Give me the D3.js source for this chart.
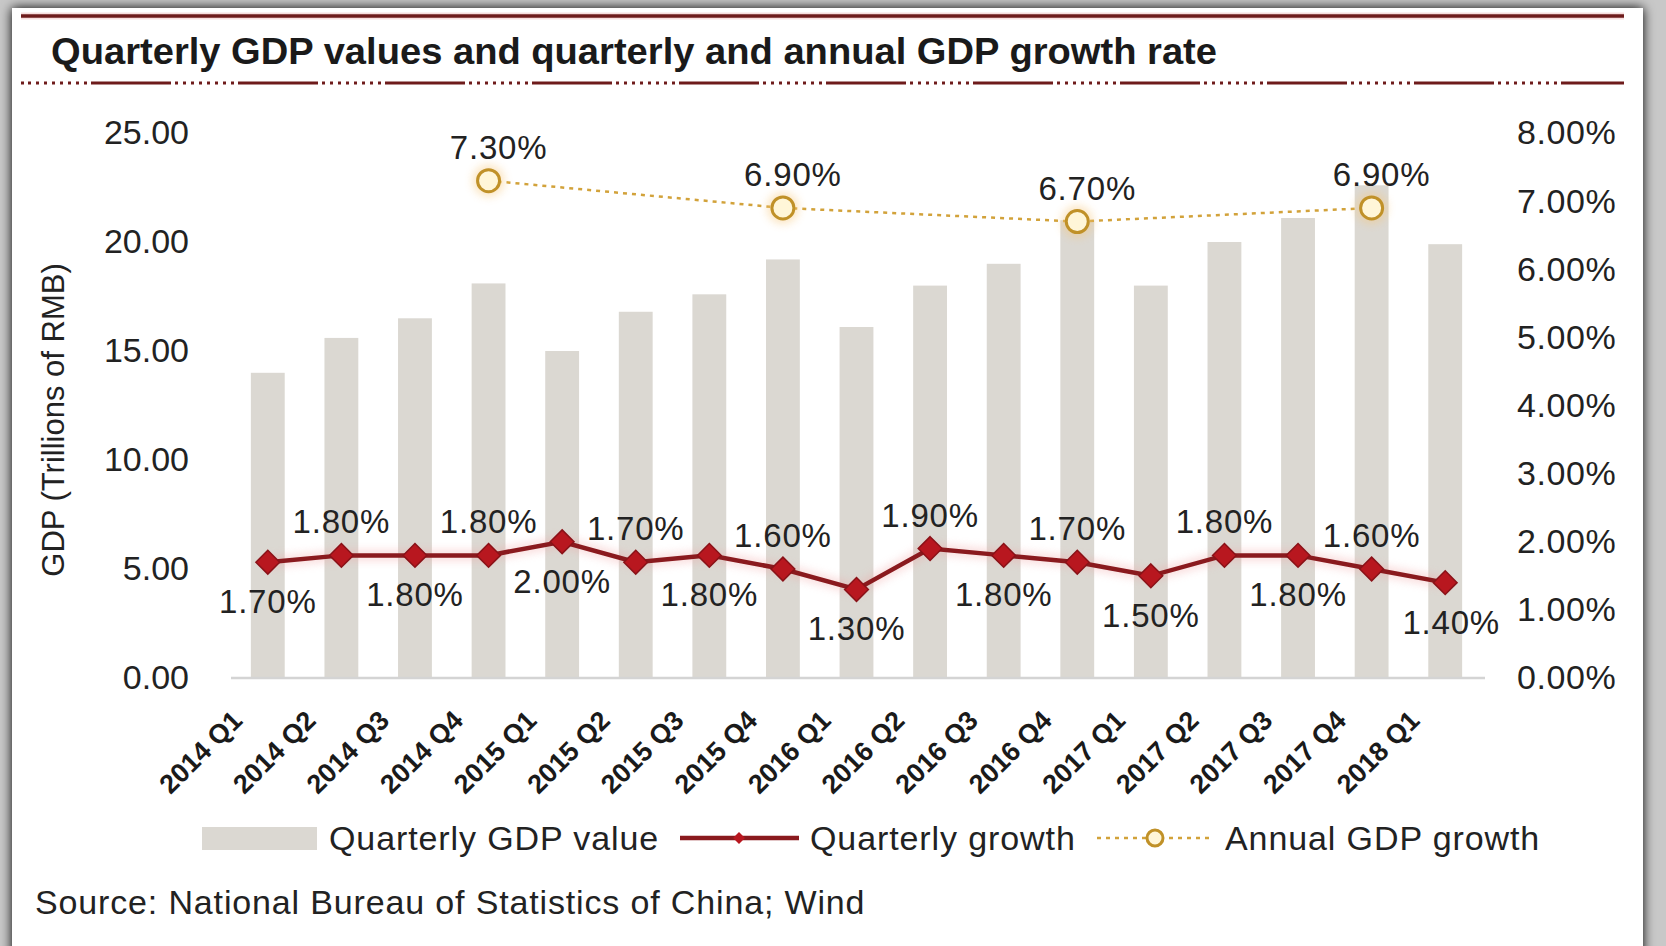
<!DOCTYPE html>
<html><head><meta charset="utf-8">
<script src="https://cdn.jsdelivr.net/npm/d3@7"></script>
<style>
html,body{margin:0;padding:0;background:#fff;}
svg{display:block;font-family:"Liberation Sans",Arial,sans-serif;}
</style></head>
<body><svg id="chart" width="1666" height="946"></svg>
<script>
const categories = ["2014 Q1","2014 Q2","2014 Q3","2014 Q4","2015 Q1","2015 Q2","2015 Q3","2015 Q4","2016 Q1","2016 Q2","2016 Q3","2016 Q4","2017 Q1","2017 Q2","2017 Q3","2017 Q4","2018 Q1"];
const gdpValues = [14.0,15.6,16.5,18.1,15.0,16.8,17.6,19.2,16.1,18.0,19.0,21.0,18.0,20.0,21.1,22.6,19.9];
const quarterlyGrowth = [1.7,1.8,1.8,1.8,2.0,1.7,1.8,1.6,1.3,1.9,1.8,1.7,1.5,1.8,1.8,1.6,1.4];
const annualCategories = ["2014 Q4","2015 Q4","2016 Q4","2017 Q4"];
const annualGrowth = [7.3,6.9,6.7,6.9];
const leftTicks = [0,5,10,15,20,25];
const rightTicks = [0,1,2,3,4,5,6,7,8];
const titleText = "Quarterly GDP values and quarterly and annual GDP growth rate";
const yTitle = "GDP (Trillions of RMB)";
const legendLabels = ["Quarterly GDP value","Quarterly growth","Annual GDP growth"];
const sourceText = "Source: National Bureau of Statistics of China; Wind";

const svg = d3.select("#chart");
const W = 1666, H = 946;
const barColor = "#dbd8d2", redLine = "#8a1a1e", redFill = "#b8171f", gold = "#d2a23a", textColor = "#222";
const FF = "Liberation Sans, Arial, sans-serif";

const defs = svg.append("defs");
const sh = defs.append("filter").attr("id","shadow").attr("x","-5%").attr("y","-5%").attr("width","110%").attr("height","110%");
sh.append("feGaussianBlur").attr("in","SourceAlpha").attr("stdDeviation",6);
const fm = sh.append("feMerge"); fm.append("feMergeNode"); fm.append("feMergeNode").attr("in","SourceGraphic");
const glow = defs.append("filter").attr("id","glow").attr("x","-50%").attr("y","-50%").attr("width","200%").attr("height","200%");
glow.append("feGaussianBlur").attr("stdDeviation",4);

// frame
svg.append("rect").attr("width",W).attr("height",H).attr("fill","#c8c8c8");
svg.append("rect").attr("x",12).attr("y",8).attr("width",1631).attr("height",950).attr("fill","#fff").attr("filter","url(#shadow)");

// header lines
svg.append("line").attr("x1",21).attr("x2",1624).attr("y1",16).attr("y2",16).attr("stroke","#e9a0a0").attr("stroke-width",7).attr("opacity",0.35);
svg.append("line").attr("x1",21).attr("x2",1624).attr("y1",16).attr("y2",16).attr("stroke","#6e1b1b").attr("stroke-width",3.5);
svg.append("line").attr("x1",21).attr("x2",1624).attr("y1",83).attr("y2",83)
  .attr("stroke","#6e1b1b").attr("stroke-width",3)
  .attr("stroke-dasharray","80,4,3,5,3,5,3,5,3,5,3,5,3,5,3,5,3,4").attr("stroke-dashoffset",-70);
svg.append("text").attr("x",51).attr("y",64).attr("font-size",36).attr("font-weight","bold")
  .attr("fill","#1a1a1a").attr("textLength",1166).attr("lengthAdjust","spacingAndGlyphs").text(titleText);

// scales
const x = d3.scaleBand().domain(categories).range([231,1482]).paddingInner(0.54).paddingOuter(0.27);
const yL = d3.scaleLinear().domain([0,25]).range([678,133]);
const yR = d3.scaleLinear().domain([0,8]).range([678,133]);
const cx = d => x(d) + x.bandwidth()/2;

// axes
const gL = svg.append("g").attr("transform","translate(231,0)")
  .call(d3.axisLeft(yL).tickValues(leftTicks).tickFormat(d=>d.toFixed(2)).tickSize(0).tickPadding(42));
gL.select(".domain").remove();
gL.selectAll("text").attr("font-size",34).attr("fill",textColor).attr("font-family",FF);

const gR = svg.append("g").attr("transform","translate(1482,0)")
  .call(d3.axisRight(yR).tickValues(rightTicks).tickFormat(d=>d.toFixed(2)+"%").tickSize(0).tickPadding(35));
gR.select(".domain").remove();
gR.selectAll("text").attr("font-size",34).attr("fill",textColor).attr("font-family",FF).attr("letter-spacing",0.6);

// bars
svg.append("g").selectAll("rect").data(categories).join("rect")
  .attr("x",d=>x(d)).attr("width",x.bandwidth())
  .attr("y",(d,i)=>yL(gdpValues[i])).attr("height",(d,i)=>yL(0)-yL(gdpValues[i]))
  .attr("fill",barColor);

const gX = svg.append("g").attr("transform","translate(0,678)")
  .call(d3.axisBottom(x).tickSize(0));
gX.select(".domain").attr("stroke","#d4d4d4").attr("stroke-width",2.5).attr("d","M231,0H1485");
gX.selectAll("text").attr("font-size",27).attr("font-weight","bold").attr("fill","#1a1a1a").attr("font-family",FF)
  .attr("y",0).attr("dy",0).attr("text-anchor","end")
  .attr("transform","translate(-24,44) rotate(-45)");

svg.append("text").attr("transform","translate(53,420) rotate(-90)").attr("text-anchor","middle")
  .attr("dy","0.35em").attr("font-size",31).attr("fill",textColor).text(yTitle);

// annual line
const annLine = d3.line().x((d,i)=>cx(annualCategories[i])).y(d=>yR(d));
svg.append("path").datum(annualGrowth).attr("d",annLine).attr("fill","none")
  .attr("stroke",gold).attr("stroke-width",2.5).attr("stroke-dasharray","4,5");
svg.append("g").selectAll("circle").data(annualGrowth).join("circle")
  .attr("cx",(d,i)=>cx(annualCategories[i])).attr("cy",d=>yR(d)).attr("r",16)
  .attr("fill","#f7c77a").attr("opacity",0.45).attr("filter","url(#glow)");
svg.append("g").selectAll("circle").data(annualGrowth).join("circle")
  .attr("cx",(d,i)=>cx(annualCategories[i])).attr("cy",d=>yR(d)).attr("r",11)
  .attr("fill","#fff6d8").attr("stroke","#c09128").attr("stroke-width",3);
svg.append("g").selectAll("text").data(annualGrowth).join("text")
  .attr("x",(d,i)=>cx(annualCategories[i])+10).attr("y",d=>yR(d)-22)
  .attr("text-anchor","middle").attr("font-size",33).attr("letter-spacing",0.8).attr("fill",textColor)
  .text(d=>d.toFixed(2)+"%");

// quarterly growth line
const qLine = d3.line().x((d,i)=>cx(categories[i])).y(d=>yR(d));
svg.append("path").datum(quarterlyGrowth).attr("d",qLine).attr("fill","none")
  .attr("stroke","#f0a0a0").attr("stroke-width",11).attr("opacity",0.35).attr("filter","url(#glow)");
svg.append("path").datum(quarterlyGrowth).attr("d",qLine).attr("fill","none")
  .attr("stroke",redLine).attr("stroke-width",4.5);
const diamond = d3.symbol().type(d3.symbolDiamond2).size(360);
svg.append("g").selectAll("path").data(quarterlyGrowth).join("path")
  .attr("d",diamond).attr("transform",(d,i)=>`translate(${cx(categories[i])},${yR(d)})`)
  .attr("fill",redFill).attr("stroke","#8a1218").attr("stroke-width",1.5);
svg.append("g").selectAll("text").data(quarterlyGrowth).join("text")
  .attr("x",(d,i)=>cx(categories[i]) + (i===categories.length-1 ? 6 : 0))
  .attr("y",(d,i)=> i%2===1 ? yR(d)-22 : yR(d)+51)
  .attr("text-anchor","middle").attr("font-size",33).attr("letter-spacing",0.8).attr("fill",textColor)
  .text(d=>d.toFixed(2)+"%");

// legend
const lg = svg.append("g").attr("font-size",34).attr("fill",textColor).attr("letter-spacing",0.9);
lg.append("rect").attr("x",202).attr("y",827).attr("width",115).attr("height",23).attr("fill",barColor);
lg.append("text").attr("x",329).attr("y",838).attr("dy","0.35em").text(legendLabels[0]);
lg.append("line").attr("x1",680).attr("x2",799).attr("y1",838).attr("y2",838).attr("stroke",redLine).attr("stroke-width",4.5);
lg.append("path").attr("d",d3.symbol().type(d3.symbolDiamond2).size(90)).attr("transform","translate(739,838)").attr("fill",redFill);
lg.append("text").attr("x",810).attr("y",838).attr("dy","0.35em").text(legendLabels[1]);
lg.append("line").attr("x1",1097).attr("x2",1213).attr("y1",838).attr("y2",838).attr("stroke",gold).attr("stroke-width",2.5).attr("stroke-dasharray","4,5");
lg.append("circle").attr("cx",1155).attr("cy",838).attr("r",8).attr("fill","#fff6d8").attr("stroke","#c09128").attr("stroke-width",3);
lg.append("text").attr("x",1225).attr("y",838).attr("dy","0.35em").text(legendLabels[2]);

svg.append("text").attr("x",35).attr("y",914).attr("font-size",34).attr("letter-spacing",0.85).attr("fill","#222").text(sourceText);
</script></body></html>
